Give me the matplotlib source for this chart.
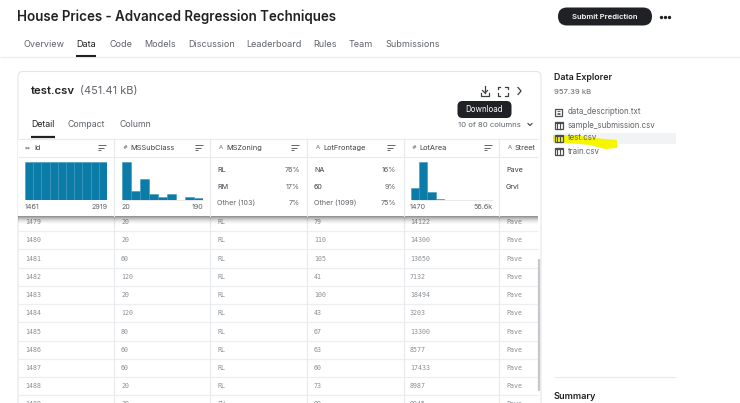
#!/usr/bin/env python3
import matplotlib
matplotlib.use("Agg")
import matplotlib.pyplot as plt
import numpy as np
from matplotlib.patches import FancyBboxPatch, Rectangle

plt.rcParams["font.family"] = ["Inter", "DejaVu Sans"]

W, H = 740, 403
DARK = "#202124"
GRAY = "#5f6368"
LIGHT = "#dadce0"
BAR = "#0b7ba8"

# histogram heights (share of tallest bar)
id_hist = [1, 1, 1, 1, 1, 1, 1, 1, 1, 1]
subclass_hist = [1.0, 0.25, 0.56, 0.15, 0.07, 0.15, 0.0, 0.09, 0.05]
lotarea_hist = [0.31, 1.0, 0.22, 0.02, 0.005, 0.0, 0.0, 0.0, 0.0, 0.0]

nav_items = ["Overview", "Data", "Code", "Models", "Discussion", "Leaderboard", "Rules", "Team", "Submissions"]
nav_x = [24, 76, 109, 144, 188, 246, 313, 349, 385]
tab_items = ["Detail", "Compact", "Column"]
tab_x = [31, 68, 119]

col_names = ["Id", "MSSubClass", "MSZoning", "LotFrontage", "LotArea", "Street"]
col_marks = ["⇔", "#", "A", "A", "#", "A"]
col_text_x = [34, 130, 226, 323, 419, 515]
col_mark_x = [25, 123, 219, 316, 412, 508]
col_sort_x = [98, 195, 291, 387, 484]
col_lines = [114, 210, 307, 404, 499]

row_ids = ["1479", "1480", "1481", "1482", "1483", "1484", "1485", "1486", "1487", "1488", "1489"]
row_sub = ["20", "20", "60", "120", "20", "120", "80", "60", "60", "20", "20"]
row_zone = ["RL", "RL", "RL", "RL", "RL", "RL", "RL", "RL", "RL", "RL", "FV"]
row_front = ["79", "110", "105", "41", "100", "43", "67", "63", "60", "73", "90"]
row_area = ["14122", "14300", "13650", "7132", "18494", "3203", "13300", "8577", "17433", "8987", "9045"]
row_street = ["Pave"] * 11
row_y = [222, 240, 259, 277, 295, 313, 331.5, 349.5, 367.5, 386, 404]

files = ["data_description.txt", "sample_submission.csv", "test.csv", "train.csv"]
file_y = [112, 125, 138, 151]

fig = plt.figure(figsize=(W / 100, H / 100), dpi=100, facecolor="white")
ax = fig.add_axes([0, 0, 1, 1])
ax.set_xlim(0, W)
ax.set_ylim(H, 0)
ax.axis("off")


def txt(x, y, s, size=6.5, color=GRAY, weight="normal", ha="left", family=None, z=6):
    kw = {"family": family} if family else {}
    ax.text(x, y + 0.7, s, fontsize=size, color=color, fontweight=weight, ha=ha, va="center", zorder=z, **kw)


def hline(x0, x1, y, color=LIGHT, lw=0.7, z=2):
    ax.plot([x0, x1], [y, y], color=color, lw=lw, zorder=z, solid_capstyle="butt")


def sort_icon(x, y):
    for i, w in enumerate([8, 5.5, 3]):
        hline(x, x + w, y - 2.5 + i * 2.5, color="#5f6368", lw=0.7, z=6)


def table_icon(x, y):
    ax.add_patch(Rectangle((x, y - 3.5), 8, 7, fc="none", ec="#4a4d51", lw=0.9, zorder=6))
    for dx in [2.7, 5.3]:
        ax.plot([x + dx, x + dx], [y - 3.5, y + 3.5], color="#4a4d51", lw=0.8, zorder=6)
    hline(x, x + 8, y - 1.8, color="#4a4d51", lw=0.9, z=6)


def doc_icon(x, y):
    ax.add_patch(Rectangle((x + 0.5, y - 3.5), 7, 7, fc="none", ec="#4a4d51", lw=0.9, zorder=6))
    for dy in [-1.5, 0.5, 2]:
        hline(x + 2.3, x + 5.7, y + dy, color="#4a4d51", lw=0.6, z=6)


# page header
txt(17, 16.5, "House Prices - Advanced Regression Techniques", size=9.65, color=DARK, weight="semibold")
ax.add_patch(FancyBboxPatch((558, 7.5), 94, 18, boxstyle="round,pad=0,rounding_size=9", fc=DARK, ec="none", zorder=3))
txt(605, 16.5, "Submit Prediction", size=5.5, color="white", weight="semibold", ha="center")
ax.scatter([661, 665, 669], [17, 17, 17], s=2, color=DARK, zorder=5)

for s, x in zip(nav_items, nav_x):
    txt(x, 43.5, s, size=6.5, color=DARK if s == "Data" else GRAY)
hline(0, W, 56.5, color="#eeeeee", lw=1)
hline(76, 96, 56, color=DARK, lw=1.5, z=4)

# main card
ax.add_patch(FancyBboxPatch((18, 71.5), 523, 345, boxstyle="round,pad=0,rounding_size=5", fc="white", ec="#e4e5e7",
                            lw=0.8, zorder=1))
txt(31, 90.5, "test.csv", size=8.2, color=DARK, weight="semibold")
txt(79.5, 90.5, "(451.41 kB)", size=7.9, color=GRAY)

# toolbar icons
ax.plot([485, 485], [86, 93], color="#3c4043", lw=0.9, zorder=6)
ax.plot([482.5, 485, 487.5], [90.5, 93, 90.5], color="#3c4043", lw=0.9, zorder=6)
ax.plot([481, 481, 489, 489], [93, 96, 96, 93], color="#3c4043", lw=0.9, zorder=6)
for sx, sy in [(-1, -1), (1, -1), (-1, 1), (1, 1)]:
    cx, cy = 502.5 + sx * 5, 91 + sy * 4.5
    ax.plot([cx - sx * 2.5, cx, cx], [cy, cy, cy - sy * 2.5], color="#3c4043", lw=0.9, zorder=6)
ax.plot([518, 521, 518], [87.5, 91, 94.5], color="#3c4043", lw=0.9, zorder=6)

ax.add_patch(FancyBboxPatch((457.5, 101), 54, 17, boxstyle="round,pad=0,rounding_size=5", fc=DARK, ec="none", zorder=7))
txt(484.5, 109, "Download", size=5.7, color="white", ha="center", z=8)

for s, x in zip(tab_items, tab_x):
    txt(x, 124, s, size=6.3, color=DARK if s == "Detail" else GRAY)
hline(31, 55, 136.5, color=DARK, lw=1.6, z=4)
txt(458, 124, "10 of 80 columns", size=5.6, color=GRAY)
ax.plot([528, 530, 532], [123.5, 125.5, 123.5], color="#3c4043", lw=0.8, zorder=6)

# table body rows
for i, y in enumerate(row_y):
    for x, vals in zip([25, 121, 217, 314, 410, 506], [row_ids, row_sub, row_zone, row_front, row_area, row_street]):
        txt(x, y - 0.7, vals[i], size=4.8, color="#8b9095", family="DejaVu Sans Mono", z=2)
    hline(18, 538, y + 9, color="#eceef0", lw=0.9)

for x in col_lines:
    ax.plot([x, x], [139, H], color="#e8eaed", lw=0.8, zorder=2)

# frozen summary header with its soft shadow
ax.add_patch(Rectangle((18, 139), 520, 77, fc="white", ec="none", zorder=3))
for i in range(9):
    ax.add_patch(Rectangle((18, 216 + i), 520, 1, fc="black", ec="none", alpha=0.42 * (1 - i / 9) ** 2, zorder=3))
for x in col_lines:
    ax.plot([x, x], [139, 216], color="#e8eaed", lw=0.8, zorder=4)
hline(18, 538, 139, color="#e8eaed", lw=0.8, z=4)
hline(18, 538, 157, color="#e8eaed", lw=0.8, z=4)

for x, s in zip(col_text_x, col_names):
    txt(x, 147, s, size=5.3, color="#3c4043")
for x, s in zip(col_mark_x, col_marks):
    txt(x, 147, s, size=4.2, color="#5f6368", family="DejaVu Sans")
for x in col_sort_x:
    sort_icon(x, 147.5)


def hist(box, vals):
    # box is x0, x1, top, bottom in page pixels
    x0, x1, top, bot = box
    a = fig.add_axes([x0 / W, 1 - bot / H, (x1 - x0) / W, (bot - top) / H], zorder=5)
    a.bar(np.arange(len(vals)), vals, width=1.0, align="edge", color=BAR, edgecolor="#3f97bb", linewidth=0.4)
    a.set_xlim(0, len(vals))
    a.set_ylim(0, 1)
    a.axis("off")


hist((25, 107, 162, 200), id_hist)
hist((122, 203, 162, 200), subclass_hist)
hist((411, 493, 162, 200), lotarea_hist)
hline(122, 203, 200.3, color="#e3e5e8", lw=0.6, z=4)
hline(411, 493, 200.3, color="#e3e5e8", lw=0.6, z=4)

txt(25, 206.5, "1461", size=5.2)
txt(107, 206.5, "2919", size=5.2, ha="right")
txt(122, 206.5, "20", size=5.2)
txt(203, 206.5, "190", size=5.2, ha="right")
txt(410, 206.5, "1470", size=5.2)
txt(493, 206.5, "56.6k", size=5.2, ha="right")

for x, xr, rows in [(217, 300, [("RL", "76%"), ("RM", "17%"), ("Other (103)", "7%")]),
                    (314, 396, [("NA", "16%"), ("60", "9%"), ("Other (1099)", "75%")])]:
    for (a_s, b_s), y, c in zip(rows, [169.5, 186, 202.5], ["#3c4043", "#3c4043", GRAY]):
        txt(x, y, a_s, size=5.2, color=c)
        txt(xr, y, b_s, size=5.2, color=GRAY, ha="right")
txt(506, 169.5, "Pave", size=5.2, color="#3c4043")
txt(506, 186, "Grvl", size=5.2, color="#3c4043")

# scrollbar
ax.plot([539, 539], [260, 390], color="#c4c6c9", lw=1.6, zorder=4, solid_capstyle="round")

# right side panel
txt(554, 76.5, "Data Explorer", size=6.4, color=DARK, weight="semibold")
txt(554, 91.5, "957.39 kB", size=5.6, color=GRAY)
ax.add_patch(Rectangle((554, 133), 122, 11, fc="#f1f3f4", ec="none", zorder=1))
# yellow marker scribble over the test.csv entry
ax.fill([553, 575, 595, 617, 617, 605, 590, 570, 553], [135, 135, 138, 140, 148, 149, 145, 143, 142],
        color="#f6f600", ec="none", zorder=2)
for s, y in zip(files, file_y):
    txt(568, y - 0.7, s, size=5.7, color=GRAY)
    if s.endswith(".txt"):
        doc_icon(554.5, y)
    else:
        table_icon(554.5, y)
hline(554, 676, 377, color="#e8eaed", lw=0.8)
txt(554, 395.5, "Summary", size=6.6, color=DARK, weight="semibold")

fig.savefig("out.png", dpi=100)
